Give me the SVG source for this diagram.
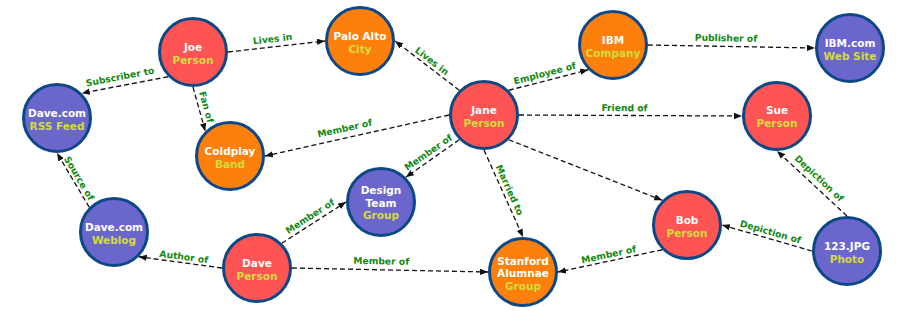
<svg xmlns="http://www.w3.org/2000/svg" width="905" height="311" viewBox="0 0 905 311">
<style>
.n circle{stroke:#0c4886;stroke-width:3}
.person circle{fill:#ff5454}
.org circle{fill:#fd800c}
.web circle{fill:#6b66cc}
.n text{font-family:"DejaVu Sans","Liberation Sans",sans-serif;font-weight:bold;font-size:10.5px;text-anchor:middle}
.nm{fill:#ffffff}
.tp{fill:#d4dc3c}
.e line{stroke:#111;stroke-width:1.3;stroke-dasharray:5,3;fill:none;marker-end:url(#arr)}
.lb text{font-family:"DejaVu Sans","Liberation Sans",sans-serif;font-weight:bold;font-size:9.2px;fill:#118811;text-anchor:middle}
</style>
<defs>
<marker id="arr" markerUnits="userSpaceOnUse" markerWidth="9" markerHeight="7" refX="8" refY="3.2" orient="auto">
<path d="M0,0 L8,3.2 L0,6.4 z" fill="#111"/>
</marker>
</defs>
<rect width="905" height="311" fill="#ffffff"/>
<g id="connectors">
<g class="e">
<line x1="228" y1="52" x2="325" y2="41"/>
<line x1="168.25" y1="76.75" x2="81.75" y2="93.25"/>
<line x1="193" y1="87" x2="205.25" y2="131.25"/>
<line x1="459.25" y1="90.25" x2="395" y2="41"/>
<line x1="508.75" y1="90.25" x2="588.25" y2="69.75"/>
<line x1="648" y1="45" x2="815" y2="48"/>
<line x1="519" y1="115" x2="742" y2="116"/>
<line x1="449" y1="115" x2="265" y2="156"/>
<line x1="459.25" y1="139.75" x2="405.75" y2="177.25"/>
<line x1="484" y1="150" x2="523" y2="237"/>
<line x1="508.75" y1="139.75" x2="662.25" y2="200.25"/>
<line x1="281.75" y1="243.25" x2="346" y2="202"/>
<line x1="292" y1="268" x2="488" y2="272"/>
<line x1="222" y1="268" x2="138.75" y2="256.75"/>
<line x1="89.25" y1="207.25" x2="57" y2="153"/>
<line x1="662.25" y1="249.75" x2="558" y2="272"/>
<line x1="812" y1="251" x2="722" y2="225"/>
<line x1="847" y1="216" x2="777" y2="151"/>
</g>
<g class="lb">
<text transform="translate(272.5,38.8) rotate(-6.47)" y="3.3">Lives in</text>
<text transform="translate(120,76.7) rotate(-10.8)" y="3.3">Subscriber to</text>
<text transform="translate(206.5,107) rotate(74.5)" y="3.3">Fan of</text>
<text transform="translate(432,61) rotate(37.5)" y="3.3">Lives in</text>
<text transform="translate(544.7,73.3) rotate(-14.5)" y="3.3">Employee of</text>
<text transform="translate(726,38) rotate(1.03)" y="3.3">Publisher of</text>
<text transform="translate(624.5,107.8) rotate(0.26)" y="3.3">Friend of</text>
<text transform="translate(344.7,128.3) rotate(-12.56)" y="3.3">Member of</text>
<text transform="translate(428.2,152.4) rotate(-35)" y="3.3">Member of</text>
<text transform="translate(509.7,190) rotate(65.85)" y="3.3">Married to</text>
<text transform="translate(310,216.3) rotate(-32.7)" y="3.3">Member of</text>
<text transform="translate(381.3,261) rotate(1.17)" y="3.3">Member of</text>
<text transform="translate(183.8,256.7) rotate(7.7)" y="3.3">Author of</text>
<text transform="translate(79.2,178.3) rotate(59.27)" y="3.3">Source of</text>
<text transform="translate(608.6,254.5) rotate(-12.05)" y="3.3">Member of</text>
<text transform="translate(770.5,231.7) rotate(16.1)" y="3.3">Depiction of</text>
<text transform="translate(819.2,178.3) rotate(42.9)" y="3.3">Depiction of</text>
</g>
</g>
<g id="joe" class="n person"><circle cx="193" cy="52" r="33.5"/><text class="nm" x="193" y="51">Joe</text><text class="tp" x="193" y="63.5">Person</text></g>
<g id="rss" class="n web"><circle cx="57" cy="118" r="33.5"/><text class="nm" x="57" y="117">Dave.com</text><text class="tp" x="57" y="129.5">RSS Feed</text></g>
<g id="coldplay" class="n org"><circle cx="230" cy="156" r="33.5"/><text class="nm" x="230" y="155">Coldplay</text><text class="tp" x="230" y="167.5">Band</text></g>
<g id="paloalto" class="n org"><circle cx="360" cy="41" r="33.5"/><text class="nm" x="360" y="40">Palo Alto</text><text class="tp" x="360" y="52.5">City</text></g>
<g id="jane" class="n person"><circle cx="484" cy="115" r="33.5"/><text class="nm" x="484" y="114">Jane</text><text class="tp" x="484" y="126.5">Person</text></g>
<g id="ibm" class="n org"><circle cx="613" cy="45" r="33.5"/><text class="nm" x="613" y="44">IBM</text><text class="tp" x="613" y="56.5">Company</text></g>
<g id="ibmcom" class="n web"><circle cx="850" cy="48" r="33.5"/><text class="nm" x="850" y="47">IBM.com</text><text class="tp" x="850" y="59.5">Web Site</text></g>
<g id="sue" class="n person"><circle cx="777" cy="116" r="33.5"/><text class="nm" x="777" y="114">Sue</text><text class="tp" x="777" y="126.5">Person</text></g>
<g id="weblog" class="n web"><circle cx="114" cy="232" r="33.5"/><text class="nm" x="114" y="231">Dave.com</text><text class="tp" x="114" y="243.5">Weblog</text></g>
<g id="dave" class="n person"><circle cx="257" cy="268" r="33.5"/><text class="nm" x="257" y="267">Dave</text><text class="tp" x="257" y="279.5">Person</text></g>
<g id="designteam" class="n web"><circle cx="381" cy="202" r="33.5"/><text class="nm" x="381" y="194">Design</text><text class="nm" x="381" y="206.5">Team</text><text class="tp" x="381" y="219">Group</text></g>
<g id="stanford" class="n org"><circle cx="523" cy="272" r="33.5"/><text class="nm" x="523" y="264.5">Stanford</text><text class="nm" x="523" y="277">Alumnae</text><text class="tp" x="523" y="289.5">Group</text></g>
<g id="bob" class="n person"><circle cx="687" cy="225" r="33.5"/><text class="nm" x="687" y="224">Bob</text><text class="tp" x="687" y="236.5">Person</text></g>
<g id="photo" class="n web"><circle cx="847" cy="251" r="33.5"/><text class="nm" x="847" y="250">123.JPG</text><text class="tp" x="847" y="262.5">Photo</text></g>
</svg>
